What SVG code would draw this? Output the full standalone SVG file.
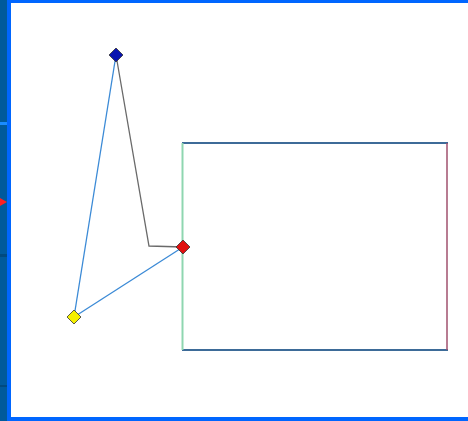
<svg xmlns="http://www.w3.org/2000/svg" width="468" height="421" viewBox="0 0 468 421">
<style>
.blue{stroke:#3b8ad6;stroke-width:1.3;fill:none}
.grey{stroke:#6a6a6a;stroke-width:1.3;fill:none}
.knob{stroke:#333;stroke-width:0.8}
</style>
<rect x="0" y="0" width="468" height="421" fill="#ffffff"/>
<rect x="0" y="0" width="7" height="421" fill="#005a9c"/>
<rect x="0" y="122" width="7" height="3" fill="#1a8cff"/>
<rect x="0" y="254" width="7" height="3" fill="#004a80"/>
<rect x="0" y="385" width="7" height="2" fill="#004a80"/>
<polygon points="0,198 7,202 0,206" fill="#ff2020"/>
<rect x="7" y="0" width="4" height="421" fill="#0066ff"/>
<rect x="7" y="0" width="461" height="3" fill="#0066ff"/>
<rect x="7" y="417" width="461" height="4" fill="#0066ff"/>
<g id="connectors">
<polyline class="grey" points="116,55 149,246 183,247"/>
<line class="blue" x1="116" y1="55" x2="74" y2="317"/>
<line class="blue" x1="74" y1="317" x2="183" y2="247"/>
</g>
<g id="rect">
<line x1="182" y1="143" x2="448" y2="143" stroke="#3d6b98" stroke-width="2.2"/>
<line x1="182" y1="350" x2="448" y2="350" stroke="#3d6b98" stroke-width="2.2"/>
<line x1="182.5" y1="143" x2="182.5" y2="350" stroke="#8fd6b0" stroke-width="2"/>
<line x1="447" y1="143" x2="447" y2="350" stroke="#a0506e" stroke-width="1.5"/>
</g>
<g id="blue-node"><polygon class="knob" points="116,48 123,55 116,62 109,55" fill="#0a14b0"/></g>
<g id="red-node"><polygon class="knob" points="183,240 190,247 183,254 176,247" fill="#e01010"/></g>
<g id="yellow-node"><polygon class="knob" points="74,310 81,317 74,324 67,317" fill="#f5f000"/></g>
</svg>
